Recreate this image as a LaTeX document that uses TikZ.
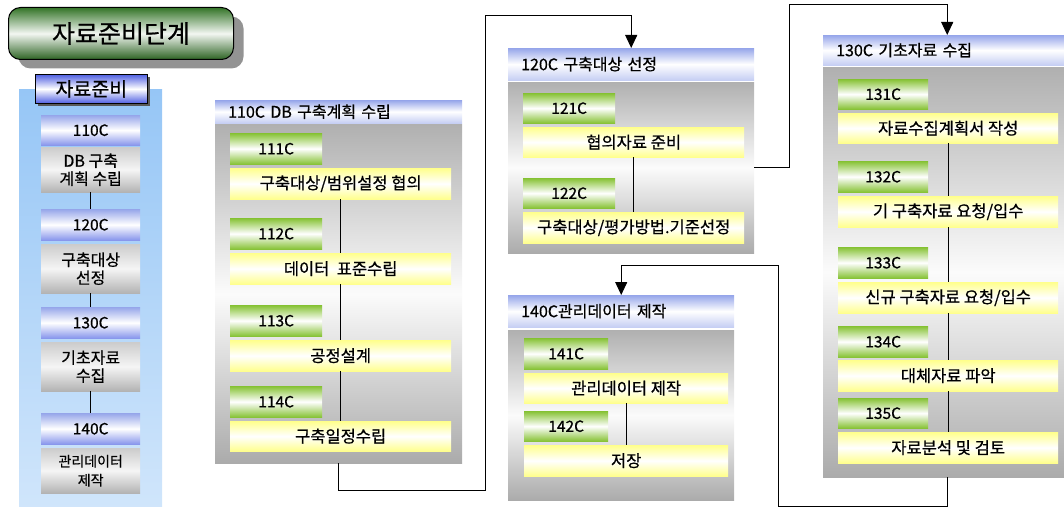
\documentclass[tikz,border=0pt]{standalone}
\usepackage{fontspec}
\setmainfont{Noto Sans CJK KR}[FakeBold=0.6]
\usetikzlibrary{positioning,arrows.meta,shadows}

\definecolor{titlegreen}{RGB}{52,116,40}
\definecolor{hdrblue}{RGB}{150,166,234}
\definecolor{codegreen}{RGB}{134,194,52}
\definecolor{stepyellow}{RGB}{255,255,140}
\definecolor{colblue}{RGB}{150,198,246}
\definecolor{labelblue}{RGB}{80,96,226}

\begin{document}
\begin{tikzpicture}[x=1pt, y=-1pt,
  every node/.style = {shape=rectangle, inner sep=0pt, anchor=north west},
  wh/.style 2 args = {minimum width=#1, minimum height=#2},
  titlebox/.style = {rounded corners=12pt, draw=black, line width=1pt,
    top color=titlegreen, bottom color=titlegreen!85!black, middle color=titlegreen!6,
    general shadow={fill=gray!85, shadow xshift=10pt, shadow yshift=-9pt},
    font=\fontsize{25}{28}\selectfont},
  labelbox/.style = {draw=black, line width=0.8pt,
    top color=labelblue, bottom color=labelblue, middle color=white,
    general shadow={fill=gray!70!black, shadow xshift=3pt, shadow yshift=-3pt},
    font=\fontsize{19.5}{22}\selectfont},
  colpanel/.style = {top color=colblue, bottom color=colblue!45},
  codeleft/.style = {top color=hdrblue, bottom color=hdrblue!90!blue, middle color=white,
    font=\fontsize{15.5}{18}\selectfont},
  itemleft/.style = {top color=gray!40, bottom color=gray!60, middle color=gray!8,
    align=center, font=\fontsize{16}{18}\selectfont},
  body/.style = {top color=gray!62, bottom color=gray!66, middle color=gray!3},
  header/.style = {top color=hdrblue, bottom color=hdrblue!55, middle color=white,
    inner xsep=13pt, align=left, font=\fontsize{16}{18}\selectfont},
  codebox/.style = {top color=codegreen, bottom color=codegreen, middle color=white,
    font=\fontsize{15.5}{18}\selectfont},
  stepbox/.style = {top color=stepyellow, bottom color=stepyellow, middle color=white,
    font=\fontsize{16.5}{18}\selectfont},
  link/.style = {draw=black, line width=1pt},
  flow/.style = {link, -{Triangle[width=12pt,length=13pt]}}]

\useasboundingbox (0,0) rectangle (1064,508);
\clip (0,0) rectangle (1064,508);

% left column
\node[colpanel, wh={143}{417}] (col) at (19,89) {};
\node[labelbox, wh={112}{29}] (lab) at (35,74) {자료준비};
\node[titlebox, wh={225}{52}] (title) at (8,7) {자료준비단계};

\node[codeleft, wh={99}{30}] (l110) at (41,115) {110C};
\node[itemleft, wh={99}{45}] (t110) at (41,147) {DB 구축\\계획 수립};
\node[codeleft, wh={99}{31}] (l120) at (41,209) {120C};
\node[itemleft, wh={99}{49}] (t120) at (41,244) {구축대상\\선정};
\node[codeleft, wh={99}{31}] (l130) at (41,307) {130C};
\node[itemleft, wh={99}{49}] (t130) at (41,342) {기초자료\\수집};
\node[codeleft, wh={99}{31}] (l140) at (41,413) {140C};
\node[itemleft, wh={99}{45}, font=\fontsize{14}{19}\selectfont] (t140) at (41,448) {관리데이터\\제작};

\draw[link] (t110.south) -- (l120.north) (t120.south) -- (l130.north)
  (t130.south) -- (l140.north);

% 110C
\node[body, wh={247}{339}] (b110) at (215,124) {};
\node[header, wh={247}{23}, text width=221] (h110) at (215,100) {110C DB 구축계획 수립};
\node[codebox, wh={92}{31}] (c111) at (230,133) {111C};
\node[stepbox, wh={221}{31}] (s111) at (230,168) {구축대상/범위설정 협의};
\node[codebox, wh={92}{31}] (c112) at (230,218) {112C};
\node[stepbox, wh={221}{31}] (s112) at (230,253) {데이터\ \ 표준수립};
\node[codebox, wh={92}{31}] (c113) at (230,305) {113C};
\node[stepbox, wh={221}{31}] (s113) at (230,340) {공정설계};
\node[codebox, wh={92}{31}] (c114) at (230,386) {114C};
\node[stepbox, wh={221}{30}] (s114) at (230,421) {구축일정수립};

\draw[link] (s111.south) -- (s112.north) (s112.south) -- (s113.north)
  (s113.south) -- (s114.north);

% 120C
\node[body, wh={246}{171}] (b120) at (508,82) {};
\node[header, wh={246}{32}, text width=220] (h120) at (508,48) {120C 구축대상 선정};
\node[codebox, wh={92}{30}] (c121) at (523,93) {121C};
\node[stepbox, wh={221}{30}] (s121) at (523,127) {협의자료 준비};
\node[codebox, wh={92}{30}] (c122) at (523,178) {122C};
\node[stepbox, wh={221}{31}] (s122) at (523,212) {구축대상/평가방법.기준선정};

\draw[link] (s121.south) -- (s122.north);

% 130C
\node[body, wh={248}{410}] (b130) at (823,67) {};
\node[header, wh={248}{30}, text width=222] (h130) at (823,35) {130C 기초자료 수집};
\node[codebox, wh={90}{30}] (c131) at (838,79) {131C};
\node[stepbox, wh={220}{30}] (s131) at (838,113) {자료수집계획서 작성};
\node[codebox, wh={90}{31}] (c132) at (838,161) {132C};
\node[stepbox, wh={220}{31}] (s132) at (838,196) {기 구축자료 요청/입수};
\node[codebox, wh={90}{31}] (c133) at (838,247) {133C};
\node[stepbox, wh={220}{31}] (s133) at (838,282) {신규 구축자료 요청/입수};
\node[codebox, wh={90}{31}] (c134) at (838,326) {134C};
\node[stepbox, wh={220}{31}] (s134) at (838,360) {대체자료 파악};
\node[codebox, wh={90}{30}] (c135) at (838,398) {135C};
\node[stepbox, wh={220}{31}] (s135) at (838,432) {자료분석 및 검토};

\draw[link] (s131.south) -- (s132.north) (s132.south) -- (s133.north)
  (s133.south) -- (s134.north) (s134.south) -- (s135.north);

% 140C
\node[body, wh={226}{170}] (b140) at (508,330) {};
\node[header, wh={226}{32}, text width=200] (h140) at (508,295) {140C관리데이터 제작};
\node[codebox, wh={84}{31}] (c141) at (524,338) {141C};
\node[stepbox, wh={204}{30}] (s141) at (524,373) {관리데이터 제작};
\node[codebox, wh={84}{30}] (c142) at (524,411) {142C};
\node[stepbox, wh={204}{31}] (s142) at (524,445) {저장};

\draw[link] (s141.south) -- (s142.north);

% flow between panels
\coordinate (j1) at (485,490);
\coordinate (j2) at (485,16);
\coordinate (j3) at (789,5);
\coordinate (j4) at (778,506);
\coordinate (j5) at (778,265);
\draw[flow] (b110.south) |- (j1) -- (j2) -| (h120.north);
\draw[flow] (b120.east) -| (j3) -| (h130.north);
\draw[flow] (b130.south) |- (j4) -- (j5) -| (h140.north);
\end{tikzpicture}
\end{document}
